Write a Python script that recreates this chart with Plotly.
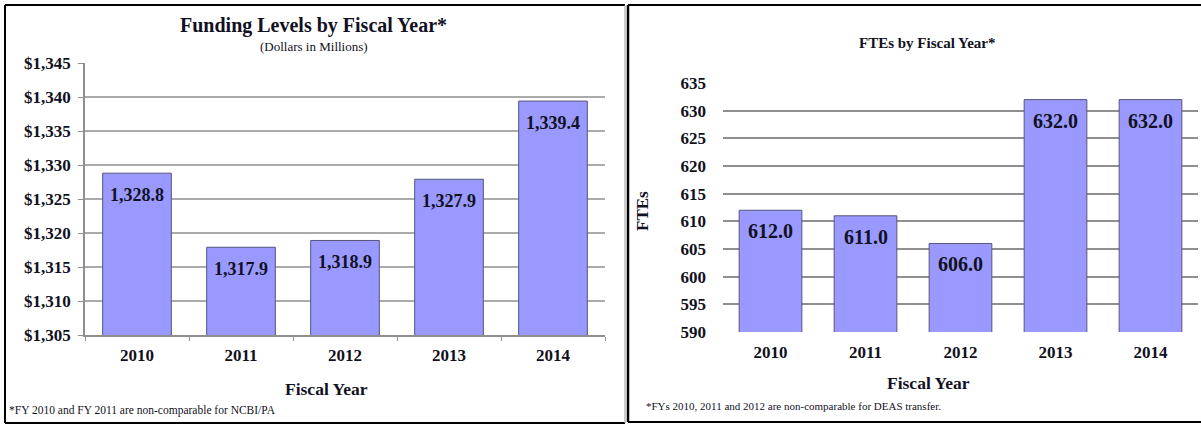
import plotly.graph_objects as go

years = ["2010", "2011", "2012", "2013", "2014"]
funding = [1328.8, 1317.9, 1318.9, 1327.9, 1339.4]
ftes = [612.0, 611.0, 606.0, 632.0, 632.0]
funding_ticks = [1305, 1310, 1315, 1320, 1325, 1330, 1335, 1340, 1345]
fte_ticks = [590, 595, 600, 605, 610, 615, 620, 625, 630, 635]

W, H = 1201, 426
FONT = "Liberation Serif"
BAR = "#9999ff"
BAR_LINE = "#55557f"
GRID = "#8f8f8f"
TXT = "#111122"

def px(x):
    return x / W

def py(y):
    return 1 - y / H

fig = go.Figure()

fig.add_trace(go.Bar(
    x=years, y=funding, xaxis="x", yaxis="y",
    marker=dict(color=BAR, line=dict(color=BAR_LINE, width=1)),
    hoverinfo="skip", showlegend=False,
))
fig.add_trace(go.Bar(
    x=years, y=ftes, xaxis="x2", yaxis="y2",
    marker=dict(color=BAR, line=dict(color=BAR_LINE, width=1)),
    hoverinfo="skip", showlegend=False,
))

annotations = []
for i, v in enumerate(funding):
    annotations.append(dict(x=i, y=v, xref="x", yref="y", text="<b>{:,.1f}</b>".format(v),
                            showarrow=False, yanchor="top", yshift=-10,
                            font=dict(family=FONT, size=18, color=TXT)))
for i, v in enumerate(ftes):
    annotations.append(dict(x=i, y=v, xref="x2", yref="y2", text="<b>{:.1f}</b>".format(v),
                            showarrow=False, yanchor="top", yshift=-8,
                            font=dict(family=FONT, size=20, color=TXT)))

def txt(x, y, s, size, bold=False, xanchor="center", angle=0):
    return dict(x=px(x), y=py(y), xref="paper", yref="paper",
                text=("<b>%s</b>" % s) if bold else s, showarrow=False,
                xanchor=xanchor, yanchor="middle", textangle=angle,
                font=dict(family=FONT, size=size, color=TXT))

annotations += [
    txt(313, 26, "Funding Levels by Fiscal Year*", 20, True),
    txt(314, 46, "(Dollars in Millions)", 13),
    txt(927, 43, "FTEs by Fiscal Year*", 15, True),
    txt(327, 389, "Fiscal Year", 17.5, True),
    txt(928, 383, "Fiscal Year", 17.5, True),
    txt(643, 211, "FTEs", 17, True, angle=-90),
    txt(7, 410, "*FY 2010 and FY 2011 are non-comparable for NCBI/PA", 11.5, xanchor="left"),
    txt(644, 406, "*FYs 2010, 2011 and 2012 are non-comparable for DEAS transfer.", 11, xanchor="left"),
]

shapes = []
for t in funding_ticks[1:-1]:
    shapes.append(dict(type="line", xref="x domain", yref="y", x0=0, x1=1, y0=t, y1=t,
                       line=dict(color=GRID, width=1.5), layer="below"))

def line(x0, y0, x1, y1, color="black", width=2):
    return dict(type="line", xref="paper", yref="paper", x0=px(x0), y0=py(y0),
                x1=px(x1), y1=py(y1), line=dict(color=color, width=width))

shapes += [
    line(5, 5, 625, 5),
    line(5, 5, 5, 423),
    line(5, 423, 625, 423),
    line(625, 5, 625, 423, color="#9a9a9a", width=1),
    line(628, 5, 1201, 5),
    line(628, 5, 628, 422, width=2.5),
    line(628, 422, 1201, 422),
]

tickfont = dict(family=FONT, size=17, color=TXT)
catfont = dict(family=FONT, size=17, color=TXT)
n = len(years)

fig.update_layout(
    width=W, height=H,
    margin=dict(l=0, r=0, t=0, b=0),
    paper_bgcolor="white", plot_bgcolor="white",
    template="none",
    bargap=0.34,
    showlegend=False,
    annotations=annotations,
    shapes=shapes,
    xaxis=dict(domain=[px(85), px(605)], type="category", anchor="y", range=[-0.5, n - 0.5],
               showline=True, linecolor=GRID, linewidth=1.5,
               ticks="outside", tickson="boundaries", ticklen=4, tickcolor=GRID, tickwidth=1,
               showgrid=False, zeroline=False, tickfont=catfont, ticklabelstandoff=4,
               tickangle=0, tickvals=years, ticktext=["<b>%s</b>" % y for y in years],
               automargin=False, fixedrange=True),
    yaxis=dict(domain=[py(335), py(63)], range=[1305, 1345], tickvals=funding_ticks,
               ticktext=["<b>${:,}</b>".format(t) for t in funding_ticks],
               showline=True, linecolor=GRID, linewidth=1.5,
               ticks="outside", ticklen=5, tickcolor=GRID, tickwidth=1,
               showgrid=False, zeroline=False, tickfont=tickfont, ticklabelstandoff=4,
               automargin=False, fixedrange=True, anchor="x"),
    xaxis2=dict(domain=[px(723), px(1198)], type="category", anchor="y2", range=[-0.5, n - 0.5],
                showline=False, ticks="", showgrid=False, zeroline=False,
                tickfont=catfont, ticklabelstandoff=8, tickangle=0,
                tickvals=years, ticktext=["<b>%s</b>" % y for y in years],
                automargin=False, fixedrange=True),
    yaxis2=dict(domain=[py(332), py(83)], range=[590, 635], tickvals=fte_ticks,
                ticktext=["<b>%d</b>" % t for t in fte_ticks],
                showline=False, ticks="", showgrid=True, gridcolor=GRID, gridwidth=1.5,
                zeroline=False, tickfont=tickfont, ticklabelstandoff=16,
                automargin=False, fixedrange=True, anchor="x2"),
)

fig.write_html("out.html")
